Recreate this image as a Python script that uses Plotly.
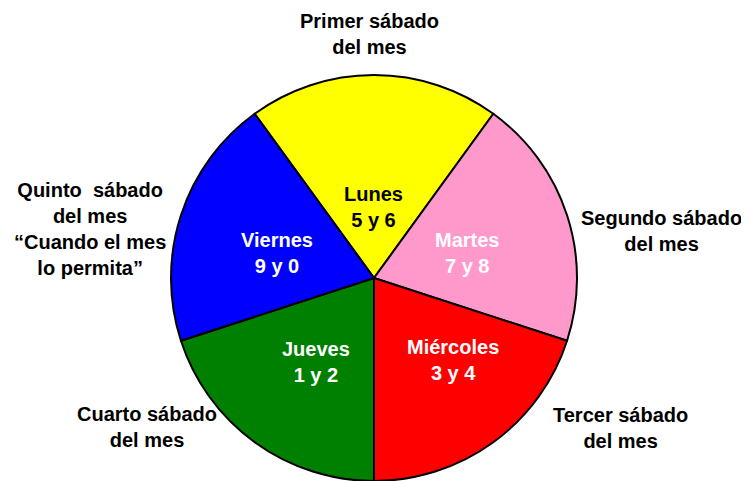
import plotly.graph_objects as go

# ---- data ----
days = ["Lunes", "Martes", "Miércoles", "Jueves", "Viernes"]
digits = ["5 y 6", "7 y 8", "3 y 4", "1 y 2", "9 y 0"]
values = [1, 1, 1, 1, 1]
saturdays = [
    "Primer sábado<br>del mes",
    "Segundo sábado<br>del mes",
    "Tercer sábado<br>del mes",
    "Cuarto sábado<br>del mes",
    "Quinto\u00a0 sábado<br>del mes<br>“Cuando el mes<br>lo permita”",
]

# ---- styles ----
colors = ["#FFFF00", "#FF99CC", "#FF0000", "#008000", "#0000FF"]
inner_text_colors = ["black", "white", "white", "white", "white"]
OFF = 8  # default page body margin
W, H = 749 - OFF, 481 - OFF
CX, CY, R = 374 - OFF, 278 - OFF, 203
# pixel offsets of inner labels from pie centre
inner_offsets = [(-1, -71), (93, -25), (79, 82), (-58, 84), (-97, -25)]
# pixel positions (viewport) of outer labels
outer_pos = [(369, 34), (661, 231), (620, 428), (147, 427), (90, 229)]
FONT = "Arial, Liberation Sans, sans-serif"

fig = go.Figure()
fig.add_trace(go.Pie(
    values=values,
    labels=days,
    sort=False,
    direction="clockwise",
    rotation=-36,
    marker=dict(colors=colors, line=dict(color="black", width=2)),
    textinfo="none",
    hoverinfo="skip",
    showlegend=False,
    domain=dict(x=[(CX - R) / W, (CX + R) / W],
                y=[max(0, (H - CY - R) / H), min(1, (H - CY + R) / H)]),
))

annotations = []
for d, g, c, (dx, dy) in zip(days, digits, inner_text_colors, inner_offsets):
    annotations.append(dict(
        x=(CX + dx) / W, y=1 - (CY + dy) / H, xref="paper", yref="paper",
        text=f"<b>{d}<br>{g}</b>", showarrow=False, xanchor="center", yanchor="middle",
        font=dict(family=FONT, size=20, color=c),
    ))
for s, (px, py) in zip(saturdays, outer_pos):
    annotations.append(dict(
        x=(px - OFF) / W, y=1 - (py - OFF) / H, xref="paper", yref="paper",
        text=f"<b>{s}</b>", showarrow=False, xanchor="center", yanchor="middle",
        font=dict(family=FONT, size=20, color="black"),
    ))

fig.update_layout(
    width=W, height=H, autosize=False,
    margin=dict(l=0, r=0, t=0, b=0),
    paper_bgcolor="white", plot_bgcolor="white",
    annotations=annotations,
)
fig.write_html("out.html")
